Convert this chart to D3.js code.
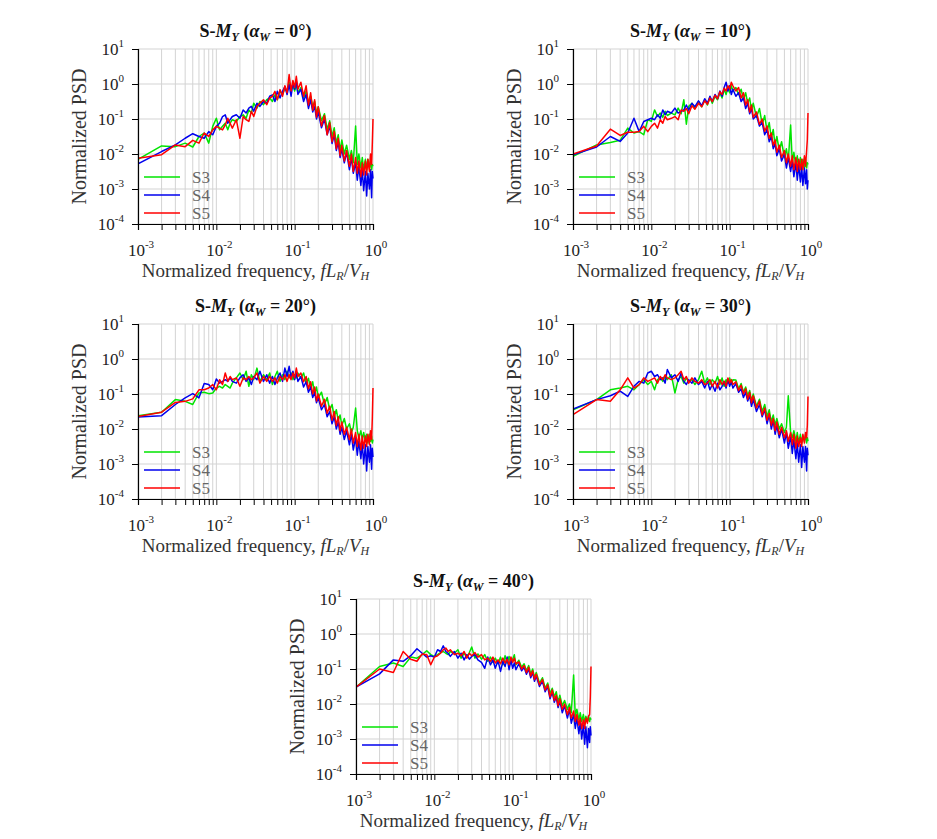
<!DOCTYPE html>
<html><head><meta charset="utf-8">
<script src="https://cdn.jsdelivr.net/npm/d3@7"></script>
<style>
body{margin:0;background:#fff}
</style>
</head><body>
<svg id="chart" width="937" height="839" font-family="'Liberation Serif', 'Times New Roman', Tinos, 'DejaVu Serif', serif"></svg>
<script>
// Normalized frequency fL_R/V_H (shared by every panel)
const freq=[0.001,0.002,0.003,0.004,0.005,0.006,0.007,0.008,0.009,0.010,0.011,0.012,0.013,0.014,0.015,0.016,0.018,0.020,0.022,0.024,0.026,0.028,0.030,0.033,0.036,0.040,0.044,0.048,0.052,0.056,0.060,0.065,0.070,0.075,0.080,0.085,0.090,0.095,0.100,0.105,0.110,0.12,0.13,0.14,0.15,0.16,0.17,0.18,0.19,0.20,0.22,0.24,0.26,0.28,0.30,0.32,0.34,0.36,0.38,0.40,0.43,0.46,0.50,0.53,0.56,0.60,0.63,0.66,0.70,0.73,0.76,0.80,0.83,0.86,0.90,0.93,0.96,0.98,1.00];

// log10(Normalized PSD)
const logPSD_S3_aw0=[-2.15,-1.77,-1.79,-1.69,-1.80,-1.50,-1.40,-1.69,-1.21,-0.98,-1.31,-1.21,-1.12,-1.31,-1.12,-1.02,-1.07,-0.93,-0.88,-0.98,-0.74,-0.83,-0.55,-0.69,-0.50,-0.59,-0.45,-0.40,-0.50,-0.31,-0.45,-0.21,-0.30,-0.12,-0.21,0.05,-0.15,-0.05,-0.20,0.00,-0.25,-0.10,-0.40,-0.20,-0.55,-0.35,-0.65,-0.50,-0.85,-0.65,-1.05,-0.85,-1.30,-1.05,-1.50,-1.25,-1.70,-1.45,-1.90,-1.60,-2.00,-1.75,-2.15,-1.90,-2.25,-1.20,-2.30,-2.00,-2.40,-2.10,-2.45,-2.15,-2.45,-2.15,-2.40,-2.20,-2.45,-2.30,-2.35];
const logPSD_S4_aw0=[-2.28,-1.93,-1.74,-1.55,-1.42,-1.50,-1.55,-1.36,-1.45,-1.21,-1.12,-0.93,-0.88,-1.12,-1.02,-0.93,-0.88,-0.98,-0.74,-0.83,-0.69,-0.64,-0.78,-0.55,-0.64,-0.50,-0.55,-0.35,-0.31,-0.50,-0.21,-0.40,-0.21,-0.07,-0.30,-0.02,-0.35,0.03,-0.15,0.08,-0.30,-0.15,-0.50,-0.30,-0.70,-0.45,-0.80,-0.65,-1.00,-0.80,-1.25,-1.00,-1.45,-1.20,-1.70,-1.45,-1.90,-1.65,-2.10,-1.85,-2.25,-1.95,-2.45,-2.10,-2.55,-2.25,-2.75,-2.35,-2.90,-2.45,-3.05,-2.50,-3.20,-2.55,-3.00,-2.45,-3.25,-2.50,-2.70];
const logPSD_S5_aw0=[-2.12,-2.02,-1.74,-1.79,-1.61,-1.69,-1.40,-1.50,-1.31,-1.21,-1.26,-1.31,-1.17,-0.98,-1.12,-1.26,-1.02,-1.55,-0.93,-1.02,-1.07,-0.78,-0.93,-0.64,-0.55,-0.45,-0.59,-0.40,-0.35,-0.21,-0.45,-0.16,-0.35,-0.05,-0.25,0.27,-0.20,0.10,-0.10,0.22,-0.15,0.05,-0.35,-0.05,-0.60,-0.25,-0.75,-0.45,-0.95,-0.65,-1.20,-0.90,-1.45,-1.10,-1.65,-1.35,-1.85,-1.55,-2.05,-1.75,-2.20,-1.90,-2.35,-2.00,-2.50,-2.10,-2.55,-2.20,-2.65,-2.25,-2.60,-2.20,-2.60,-2.15,-2.50,-2.00,-2.30,-1.70,-1.00];

const logPSD_S3_aw10=[-2.07,-1.74,-1.67,-1.61,-1.26,-1.40,-1.36,-1.45,-1.02,-1.07,-0.74,-0.93,-0.83,-0.95,-0.78,-0.90,-0.83,-0.88,-0.69,-0.85,-0.45,-1.15,-0.64,-0.55,-0.70,-0.50,-0.65,-0.45,-0.60,-0.38,-0.55,-0.35,-0.45,-0.25,-0.40,-0.15,-0.30,-0.10,-0.25,-0.05,-0.20,-0.10,-0.30,-0.15,-0.45,-0.25,-0.55,-0.40,-0.75,-0.55,-0.95,-0.70,-1.15,-0.90,-1.35,-1.10,-1.55,-1.30,-1.75,-1.50,-1.90,-1.65,-2.10,-1.85,-2.20,-1.17,-2.25,-1.95,-2.35,-2.05,-2.40,-2.10,-2.45,-2.15,-2.40,-2.15,-2.40,-2.25,-2.30];
const logPSD_S4_aw10=[-2.02,-1.80,-1.50,-1.64,-1.40,-0.98,-1.36,-1.07,-1.02,-0.98,-1.02,-0.88,-0.98,-0.74,-0.88,-0.78,-0.83,-0.69,-0.83,-0.78,-0.74,-0.60,-0.75,-0.55,-0.65,-0.48,-0.62,-0.42,-0.55,-0.35,-0.50,-0.30,-0.42,-0.20,-0.35,-0.10,0.05,-0.20,-0.05,-0.30,-0.15,-0.35,-0.25,-0.50,-0.40,-0.70,-0.55,-0.85,-0.70,-1.00,-0.90,-1.20,-1.10,-1.45,-1.30,-1.65,-1.50,-1.85,-1.70,-2.05,-1.85,-2.20,-2.00,-2.40,-2.10,-2.50,-2.20,-2.65,-2.25,-2.75,-2.30,-2.80,-2.35,-2.90,-2.40,-2.85,-2.45,-3.00,-2.75];
const logPSD_S5_aw10=[-2.00,-1.77,-1.29,-1.47,-1.38,-1.38,-1.36,-1.21,-1.36,-1.21,-1.12,-1.26,-1.02,-1.12,-0.93,-1.02,-0.98,-0.93,-1.02,-0.74,-0.78,-0.70,-0.85,-0.62,-0.72,-0.55,-0.65,-0.48,-0.58,-0.40,-0.50,-0.32,-0.42,-0.22,-0.30,-0.12,-0.20,-0.05,-0.15,0.05,-0.05,-0.20,-0.10,-0.40,-0.25,-0.60,-0.45,-0.80,-0.60,-0.95,-0.80,-1.15,-1.00,-1.35,-1.20,-1.55,-1.40,-1.75,-1.60,-1.95,-1.75,-2.10,-1.90,-2.25,-2.00,-2.35,-2.05,-2.45,-2.10,-2.50,-2.15,-2.45,-2.15,-2.45,-2.05,-2.35,-1.90,-1.60,-0.83];

const logPSD_S3_aw20=[-1.62,-1.52,-1.16,-1.21,-1.30,-0.97,-0.95,-0.99,-0.97,-0.83,-0.78,-0.83,-0.73,-0.78,-0.83,-0.69,-0.54,-0.40,-0.59,-0.35,-0.78,-0.45,-0.59,-0.26,-0.64,-0.45,-0.59,-0.40,-0.73,-0.50,-0.35,-0.64,-0.45,-0.59,-0.35,-0.54,-0.40,-0.59,-0.45,-0.54,-0.40,-0.55,-0.40,-0.70,-0.55,-0.85,-0.65,-1.00,-0.80,-1.10,-0.95,-1.30,-1.10,-1.45,-1.30,-1.65,-1.45,-1.75,-1.60,-1.90,-1.70,-2.00,-1.85,-2.10,-1.95,-1.40,-2.05,-2.25,-2.05,-2.30,-2.10,-2.35,-2.15,-2.40,-2.15,-2.35,-2.20,-2.40,-2.30];
const logPSD_S4_aw20=[-1.66,-1.62,-1.30,-1.11,-0.99,-1.11,-0.70,-0.73,-0.88,-0.57,-0.69,-0.64,-0.59,-0.64,-0.54,-0.64,-0.69,-0.54,-0.45,-0.64,-0.54,-0.73,-0.50,-0.59,-0.35,-0.64,-0.45,-0.69,-0.50,-0.73,-0.54,-0.40,-0.64,-0.26,-0.50,-0.21,-0.54,-0.35,-0.59,-0.40,-0.64,-0.50,-0.80,-0.65,-0.95,-0.80,-1.10,-0.95,-1.25,-1.10,-1.45,-1.30,-1.65,-1.50,-1.85,-1.65,-2.00,-1.80,-2.15,-1.95,-2.30,-2.05,-2.45,-2.15,-2.60,-2.25,-2.75,-2.35,-2.85,-2.40,-3.00,-2.45,-3.20,-2.50,-2.95,-2.45,-3.15,-2.55,-2.80];
const logPSD_S5_aw20=[-1.64,-1.52,-1.24,-1.21,-1.14,-0.88,-0.88,-0.83,-0.73,-0.88,-0.59,-0.73,-0.40,-0.64,-0.50,-0.59,-0.54,-0.78,-0.54,-0.59,-0.50,-0.59,-0.54,-0.40,-0.69,-0.50,-0.64,-0.50,-0.64,-0.54,-0.69,-0.50,-0.59,-0.45,-0.64,-0.45,-0.59,-0.40,-0.54,-0.26,-0.50,-0.40,-0.65,-0.50,-0.85,-0.65,-1.00,-0.80,-1.20,-1.00,-1.35,-1.15,-1.55,-1.35,-1.75,-1.50,-1.90,-1.65,-2.05,-1.80,-2.15,-1.95,-2.30,-2.00,-2.40,-2.10,-2.50,-2.15,-2.60,-2.20,-2.55,-2.20,-2.50,-2.15,-2.45,-2.05,-2.30,-1.70,-0.83];

const logPSD_S3_aw30=[-1.45,-1.16,-0.88,-0.83,-0.78,-0.88,-0.73,-0.59,-0.73,-0.64,-0.88,-0.59,-0.54,-0.64,-0.50,-0.59,-0.45,-0.97,-0.59,-0.50,-0.69,-0.54,-0.64,-0.59,-0.73,-0.59,-0.35,-0.69,-0.54,-0.73,-0.59,-0.69,-0.50,-0.73,-0.54,-0.78,-0.59,-0.69,-0.54,-0.73,-0.59,-0.60,-0.85,-0.70,-0.95,-0.80,-1.05,-0.90,-1.20,-1.00,-1.35,-1.15,-1.50,-1.30,-1.65,-1.45,-1.80,-1.60,-1.90,-1.70,-2.00,-1.85,-2.10,-1.95,-1.05,-2.10,-2.25,-2.05,-2.35,-2.10,-2.40,-2.15,-2.40,-2.20,-2.35,-2.15,-2.40,-2.25,-2.35];
const logPSD_S4_aw30=[-1.43,-1.16,-1.05,-0.92,-1.07,-0.78,-0.64,-0.69,-0.40,-0.35,-0.50,-0.45,-0.59,-0.54,-0.69,-0.30,-0.54,-0.45,-0.64,-0.40,-0.64,-0.73,-0.59,-0.69,-0.54,-0.73,-0.64,-0.83,-0.64,-0.88,-0.73,-0.92,-0.69,-0.88,-0.78,-0.64,-0.83,-0.59,-0.78,-0.64,-0.83,-0.70,-0.95,-0.85,-1.10,-0.95,-1.20,-1.05,-1.35,-1.15,-1.50,-1.30,-1.65,-1.45,-1.85,-1.60,-2.00,-1.75,-2.15,-1.90,-2.25,-2.00,-2.40,-2.10,-2.55,-2.20,-2.70,-2.30,-2.85,-2.40,-2.95,-2.45,-3.10,-2.50,-2.95,-2.50,-3.20,-2.55,-2.75];
const logPSD_S5_aw30=[-1.59,-1.16,-1.21,-0.88,-0.54,-0.83,-0.73,-0.54,-0.64,-0.59,-0.54,-0.69,-0.50,-0.59,-0.45,-0.54,-0.59,-0.54,-0.45,-0.35,-0.59,-0.50,-0.69,-0.54,-0.64,-0.69,-0.59,-0.73,-0.69,-0.59,-0.78,-0.64,-0.83,-0.59,-0.73,-0.64,-0.78,-0.54,-0.69,-0.59,-0.73,-0.65,-0.90,-0.75,-1.00,-0.85,-1.15,-0.95,-1.25,-1.05,-1.40,-1.20,-1.60,-1.40,-1.75,-1.55,-1.90,-1.70,-2.05,-1.80,-2.15,-1.95,-2.25,-2.05,-2.35,-2.10,-2.45,-2.15,-2.55,-2.20,-2.50,-2.25,-2.50,-2.15,-2.40,-2.10,-2.25,-1.90,-1.07];

const logPSD_S3_aw40=[-1.52,-0.93,-0.83,-0.93,-0.66,-0.69,-0.59,-0.48,-0.59,-0.64,-0.59,-0.53,-0.50,-0.55,-0.59,-0.50,-0.55,-0.45,-0.69,-0.55,-0.66,-0.53,-0.37,-0.69,-0.57,-0.72,-0.59,-0.78,-0.66,-0.81,-0.69,-0.85,-0.66,-0.88,-0.62,-0.83,-0.64,-0.85,-0.72,-0.59,-0.88,-0.75,-0.95,-0.85,-1.05,-0.90,-1.15,-1.00,-1.25,-1.10,-1.40,-1.25,-1.55,-1.40,-1.70,-1.55,-1.80,-1.65,-1.95,-1.75,-2.05,-1.90,-2.15,-2.00,-2.25,-1.17,-2.35,-2.15,-2.45,-2.25,-2.50,-2.30,-2.55,-2.35,-2.50,-2.35,-2.50,-2.40,-2.45];
const logPSD_S4_aw40=[-1.52,-1.14,-0.74,-0.78,-0.62,-0.42,-0.55,-0.66,-0.62,-0.66,-0.45,-0.50,-0.34,-0.50,-0.55,-0.64,-0.50,-0.69,-0.55,-0.74,-0.59,-0.72,-0.64,-0.59,-0.74,-0.81,-0.98,-0.66,-0.88,-0.74,-0.98,-0.76,-1.07,-0.78,-0.93,-0.66,-1.02,-0.74,-0.98,-0.83,-1.02,-0.85,-1.05,-0.95,-1.15,-1.00,-1.25,-1.10,-1.35,-1.20,-1.50,-1.35,-1.65,-1.50,-1.85,-1.65,-1.95,-1.80,-2.10,-1.90,-2.25,-2.05,-2.40,-2.15,-2.55,-2.30,-2.70,-2.40,-2.85,-2.50,-3.00,-2.60,-3.15,-2.65,-3.25,-2.70,-3.10,-2.65,-2.90];
const logPSD_S5_aw40=[-1.52,-1.00,-1.10,-0.50,-0.72,-0.78,-0.57,-0.59,-0.88,-0.66,-0.62,-0.55,-0.45,-0.40,-0.50,-0.45,-0.59,-0.55,-0.62,-0.50,-0.69,-0.55,-0.62,-0.53,-0.66,-0.59,-0.74,-0.69,-0.78,-0.66,-0.83,-0.74,-0.85,-0.69,-0.83,-0.72,-0.88,-0.66,-0.81,-0.69,-0.85,-0.80,-1.00,-0.90,-1.10,-0.95,-1.20,-1.05,-1.30,-1.15,-1.45,-1.30,-1.60,-1.45,-1.80,-1.60,-1.90,-1.75,-2.05,-1.85,-2.15,-2.00,-2.30,-2.10,-2.40,-2.20,-2.50,-2.30,-2.60,-2.40,-2.70,-2.45,-2.70,-2.40,-2.55,-2.35,-2.30,-1.80,-0.93];

const seriesNames=["S3","S4","S5"];
const windAngles=["0","10","20","30","40"];
const xTickExps=[-3,-2,-1,0];
const yTickExps=[1,0,-1,-2,-3,-4];

const panelSeries=[
  [logPSD_S3_aw0,logPSD_S4_aw0,logPSD_S5_aw0],
  [logPSD_S3_aw10,logPSD_S4_aw10,logPSD_S5_aw10],
  [logPSD_S3_aw20,logPSD_S4_aw20,logPSD_S5_aw20],
  [logPSD_S3_aw30,logPSD_S4_aw30,logPSD_S5_aw30],
  [logPSD_S3_aw40,logPSD_S4_aw40,logPSD_S5_aw40]
];

// ---- presentation ----
const FONT="'Liberation Serif', 'Times New Roman', Tinos, 'DejaVu Serif', serif";
const colors=["#00e400","#0000ee","#ff0000"];
const origins=[{x:138,y:49},{x:573,y:49},{x:138,y:324},{x:573,y:324},{x:356,y:599}];
const W=235,H=175;

const svg=d3.select("#chart");
const minorVals=[];
for(let e=-3;e<0;e++){for(let m=1;m<10;m++){minorVals.push(m*Math.pow(10,e));}}
minorVals.push(1);

function txt(sel){return sel.append("text").attr("font-family",FONT);}

panelSeries.forEach((series,pi)=>{
  const o=origins[pi];
  const g=svg.append("g").attr("transform",`translate(${o.x},${o.y})`);
  const x=d3.scaleLog().domain([1e-3,1]).range([0,W]);
  const y=d3.scaleLog().domain([1e-4,10]).range([H,0]);

  g.append("defs").append("clipPath").attr("id","clip"+pi)
    .append("rect").attr("x",0).attr("y",-2).attr("width",W+1).attr("height",H+2);

  // grid
  g.append("g").selectAll("line").data(minorVals).join("line")
    .attr("x1",d=>x(d)).attr("x2",d=>x(d)).attr("y1",0).attr("y2",H)
    .attr("stroke","#d3d3d3").attr("stroke-width",1);
  g.append("g").selectAll("line").data(yTickExps).join("line")
    .attr("x1",0).attr("x2",W).attr("y1",d=>y(Math.pow(10,d))).attr("y2",d=>y(Math.pow(10,d)))
    .attr("stroke","#d3d3d3").attr("stroke-width",1);

  // series lines
  const line=d3.line().x((d,i)=>x(freq[i])).y(d=>y(Math.pow(10,d)));
  const lg=g.append("g").attr("clip-path",`url(#clip${pi})`);
  series.forEach((s,si)=>{
    lg.append("path").datum(s).attr("d",line).attr("fill","none")
      .attr("stroke",colors[si]).attr("stroke-width",1.5).attr("stroke-linejoin","round");
  });

  // axes
  const xAxis=d3.axisBottom(x).tickValues(minorVals).tickSize(6).tickFormat("");
  const xg=g.append("g").attr("transform",`translate(0,${H})`).call(xAxis);
  xg.select(".domain").attr("stroke","#000").attr("stroke-width",1.2);
  xg.selectAll(".tick line").attr("stroke","#000").attr("stroke-width",1);
  const yAxis=d3.axisLeft(y).tickValues(yTickExps.map(e=>Math.pow(10,e))).tickSize(6).tickFormat("");
  const yg=g.append("g").call(yAxis);
  yg.select(".domain").attr("stroke","#000").attr("stroke-width",1.2);
  yg.selectAll(".tick line").attr("stroke","#000");

  // x tick labels
  xTickExps.forEach(e=>{
    const t=txt(g).attr("x",x(Math.pow(10,e))+3).attr("y",H+32)
      .attr("text-anchor","middle").attr("font-size",17).attr("fill","#222");
    t.append("tspan").text("10");
    t.append("tspan").attr("dy",-8).attr("font-size",11).text(e<0?"-"+Math.abs(e):String(e));
  });
  // y tick labels
  yTickExps.forEach(e=>{
    const t=txt(g).attr("x",-14).attr("y",y(Math.pow(10,e))+6)
      .attr("text-anchor","end").attr("font-size",17).attr("fill","#222");
    t.append("tspan").text("10");
    t.append("tspan").attr("dy",-8).attr("font-size",11).text(e<0?"-"+Math.abs(e):String(e));
  });

  // axis titles
  const xl=txt(g).attr("x",W/2).attr("y",H+53).attr("text-anchor","middle")
    .attr("font-size",19).attr("fill","#333");
  xl.append("tspan").text("Normalized frequency, ");
  xl.append("tspan").attr("font-style","italic").text("fL");
  xl.append("tspan").attr("font-style","italic").attr("font-size",12).attr("dy",3).text("R");
  xl.append("tspan").attr("dy",-3).text("/");
  xl.append("tspan").attr("font-style","italic").text("V");
  xl.append("tspan").attr("font-style","italic").attr("font-size",12).attr("dy",3).text("H");

  txt(g).attr("transform",`translate(-52,${H/2}) rotate(-90)`)
    .attr("text-anchor","middle").attr("font-size",20).attr("fill","#333").text("Normalized PSD");

  // title
  const tt=txt(g).attr("x",W/2).attr("y",-12).attr("text-anchor","middle")
    .attr("font-size",18).attr("font-weight","bold").attr("fill","#111");
  tt.append("tspan").text("S-");
  tt.append("tspan").attr("font-style","italic").text("M");
  tt.append("tspan").attr("font-style","italic").attr("font-size",12).attr("dy",4).text("Y");
  tt.append("tspan").attr("dy",-4).text(" (");
  tt.append("tspan").attr("font-style","italic").text("α");
  tt.append("tspan").attr("font-style","italic").attr("font-size",12).attr("dy",4).text("W");
  tt.append("tspan").attr("dy",-4).text(" = "+windAngles[pi]+"°)");

  // legend
  seriesNames.forEach((nm,si)=>{
    const ly=H-47+si*18;
    g.append("line").attr("x1",6).attr("x2",42).attr("y1",ly).attr("y2",ly)
      .attr("stroke",colors[si]).attr("stroke-width",1.5);
    txt(g).attr("x",54).attr("y",ly+6).attr("font-size",17).attr("fill","#666").text(nm);
  });
});
</script>
</body></html>
